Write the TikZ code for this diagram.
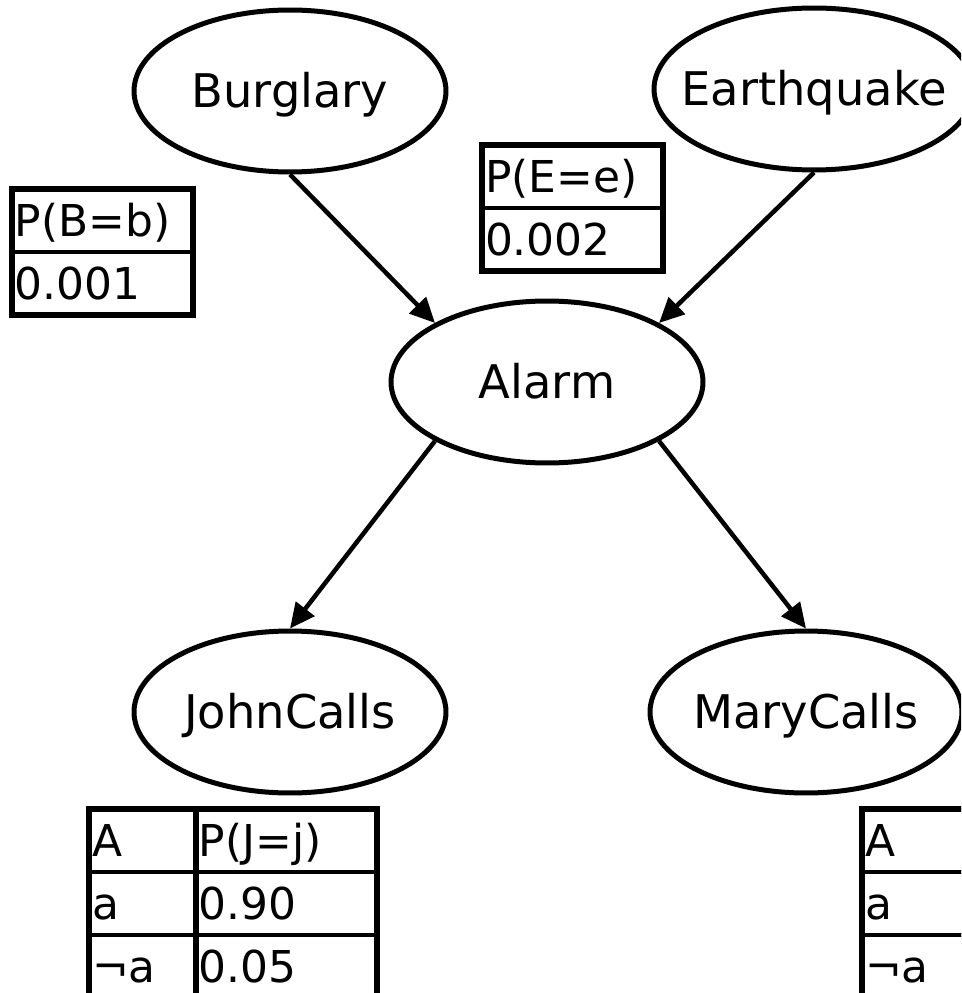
\documentclass[tikz,border=0pt]{standalone}
\usepackage{fontspec}
\setmainfont{DejaVu Sans}
\usetikzlibrary{positioning,arrows.meta,shapes.geometric}
\newcommand{\vlabel}[1]{\makebox[0pt]{#1}}
\tikzset{
  var/.style={ellipse, draw=black, line width=0.1cm, minimum width=6.24cm,
    minimum height=3.24cm, inner sep=0pt, font=\fontsize{26.4}{30}\selectfont,
    text height=0.67cm, text depth=0pt},
  cpt/.style={rectangle, draw=black, line width=0.07cm, outer sep=0pt,
    inner xsep=0.06cm, inner ysep=0pt, minimum height=1.26cm, align=left,
    font=\fontsize{25}{29}\selectfont, text height=0.64cm, text depth=0pt},
  cptw/.style={cpt, text width=3.5cm},
  cptn/.style={cpt, text width=2.02cm},
  cptframe/.style={draw=black, line width=0.11cm},
  dep/.style={-{Triangle[length=0.5cm, width=0.46cm]}, draw=black, line width=0.09cm},
}
\begin{document}
\begin{tikzpicture}[x=0.02cm, y=-0.02cm]
\clip (0,0) rectangle (961,993);
% variables
\node[var] (burglary) at (290,91) {\vlabel{Burglary}};
\node[var, minimum width=6.4cm] (earthquake) at (814,89) {\vlabel{Earthquake}};
\node[var] (alarm) at (547,382) {\vlabel{Alarm}};
\node[var] (john) at (290,712) {\vlabel{JohnCalls}};
\node[var] (mary) at (806,712) {\vlabel{MaryCalls}};
% CPTs
\node[cptw, anchor=north west] (bt1) at (12,189) {P(B=b)};
\node[cptw, below=0pt of bt1] (bt2) {0.001};
\draw[cptframe] (bt1.north west) rectangle (bt2.south east);
\node[cptw, anchor=north west] (et1) at (482,145) {P(E=e)};
\node[cptw, below=0pt of et1] (et2) {0.002};
\draw[cptframe] (et1.north west) rectangle (et2.south east);
\node[cptn, anchor=north west] (jt1) at (89,809) {A};
\node[cptw, right=0pt of jt1] (jt2) {P(J=j)};
\node[cptn, below=0pt of jt1] (jt3) {a};
\node[cptw, below=0pt of jt2] (jt4) {0.90};
\node[cptn, below=0pt of jt3] (jt5) {¬a};
\node[cptw, below=0pt of jt4] (jt6) {0.05};
\draw[cptframe] (jt1.north west) rectangle (jt6.south east);
\draw[cptframe] (jt1.north east) -- (jt5.south east);
\node[cptn, anchor=north west] (mt1) at (862,809) {A};
\node[cptn, below=0pt of mt1] (mt2) {a};
\node[cptn, below=0pt of mt2] (mt3) {¬a};
\draw[cptframe] (mt1.north west) rectangle (mt3.south east);
% edges
\draw[dep] (burglary.south) -- (alarm.north west);
\draw[dep] (earthquake.south) -- (alarm.north east);
\draw[dep] (alarm.south west) -- (john.north);
\draw[dep] (alarm.south east) -- (mary.north);
\end{tikzpicture}
\end{document}
